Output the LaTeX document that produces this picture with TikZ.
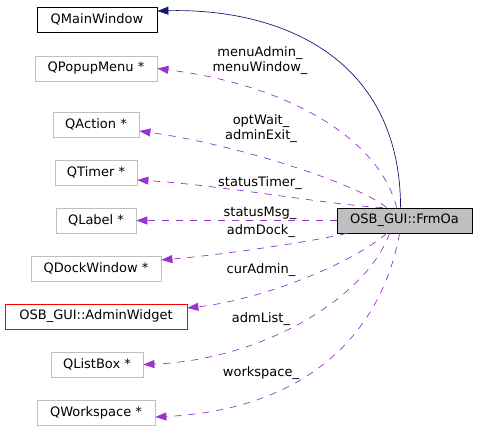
\documentclass[tikz,border=0pt]{standalone}
\usepackage{fontspec}
\setmainfont{DejaVu Sans}
\usetikzlibrary{arrows.meta}
\definecolor{boxgray}{HTML}{BFBFBF}
\definecolor{deppurple}{HTML}{9A32CD}
\definecolor{inhnavy}{HTML}{191970}
\tikzset{
  cls/.style={draw=boxgray, line width=0.8pt, minimum height=25pt, inner sep=0pt,
    font=\fontsize{13}{15}\selectfont},
  mainbox/.style={cls, draw=black},
  redbox/.style={cls, draw=red},
  curbox/.style={cls, draw=black, fill=boxgray},
  dep/.style={draw=deppurple, line width=0.7pt, dash pattern=on 7pt off 7pt,
    -{Triangle[length=11pt,width=8pt,fill=deppurple]}},
  inh/.style={draw=inhnavy, line width=0.7pt,
    -{Triangle[length=11pt,width=8pt,fill=inhnavy]}},
  lbl/.style={font=\fontsize{13}{15}\selectfont, align=center, inner sep=0pt}
}
\begin{document}
\begin{tikzpicture}[x=1pt,y=-1pt]
\useasboundingbox (0,0) rectangle (477,441);
\node[mainbox, minimum width=120pt] (main) at (97,19.5) {QMainWindow};
\node[cls, minimum width=122pt] (popup) at (96,68.5) {QPopupMenu *};
\node[cls, minimum width=86pt] (action) at (96,124.5) {QAction *};
\node[cls, minimum width=82pt] (timer) at (96,172.5) {QTimer *};
\node[cls, minimum width=80pt] (label) at (96,220.5) {QLabel *};
\node[cls, minimum width=130pt] (dock) at (96,268.5) {QDockWindow *};
\node[redbox, minimum width=182pt] (adminw) at (96,316.5) {OSB\_GUI::AdminWidget};
\node[cls, minimum width=92pt] (listbox) at (97,364.5) {QListBox *};
\node[cls, minimum width=118pt] (workspace) at (96,412.5) {QWorkspace *};
\node[curbox, minimum width=135pt] (frm) at (404.5,220.5) {OSB\_GUI::FrmOa};

\draw[inh] ([xshift=64pt]frm.north west) .. controls (400,50) and (270,8) .. ([yshift=8.5pt]main.east);
\draw[dep] ([xshift=60pt]frm.north west) .. controls (380,140) and (290,85) .. (popup.east);
\draw[dep] ([xshift=50pt]frm.north west) .. controls (360,185) and (240,145) .. ([yshift=-6.5pt]action.east);
\draw[dep] ([xshift=46pt]frm.north west) .. controls (330,205) and (220,185) .. ([yshift=-7.5pt]timer.east);
\draw[dep] (frm.west) -- (label.east);
\draw[dep] ([xshift=10pt]frm.south west) .. controls (310,242) and (220,255) .. ([yshift=8.5pt]dock.east);
\draw[dep] ([xshift=50pt]frm.south west) .. controls (350,265) and (260,300) .. ([yshift=8.5pt]adminw.east);
\draw[dep] ([xshift=53pt]frm.south west) .. controls (365,300) and (260,360) .. (listbox.east);
\draw[dep] ([xshift=63pt]frm.south west) .. controls (380,340) and (300,410) .. ([yshift=-4.5pt]workspace.east);

\node[lbl] (l1) at (260,61) {menuAdmin\_\\menuWindow\_};
\node[lbl] (l2) at (261,128.5) {optWait\_\\adminExit\_};
\node[lbl, anchor=base] (l3) at (260,186) {statusTimer\_};
\node[lbl, anchor=base] (l4) at (260,216) {statusMsg\_};
\node[lbl, anchor=base] (l5) at (261,234) {admDock\_};
\node[lbl, anchor=base] (l6) at (261,273) {curAdmin\_};
\node[lbl, anchor=base] (l7) at (261,322) {admList\_};
\node[lbl, anchor=base] (l8) at (261,376) {workspace\_};
\end{tikzpicture}
\end{document}
